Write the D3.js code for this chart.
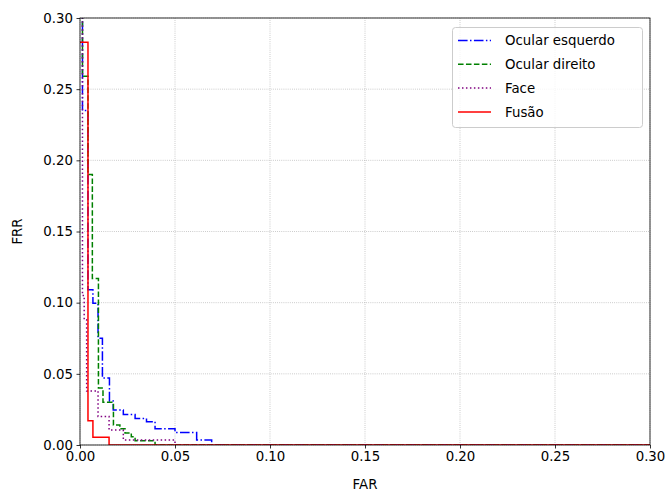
<!DOCTYPE html>
<html>
<head>
<meta charset="utf-8">
<script src="https://cdn.jsdelivr.net/npm/d3@7"></script>
<style>
  body { margin: 0; background: #fff; }
  text { font-family: "DejaVu Sans", sans-serif; }
</style>
</head>
<body>
<svg id="chart" width="670" height="491"></svg>
<script>
// step corners (curveStepBefore: drop first, then move right)
const esqFar = [0.0013, 0.0042, 0.0068, 0.0095, 0.0118, 0.0155, 0.0175, 0.0228, 0.029, 0.035, 0.0395, 0.05, 0.0614, 0.0693, 0.30];
const esqFrr = [0.32, 0.235, 0.109, 0.0996, 0.075, 0.047, 0.031, 0.0246, 0.0215, 0.0187, 0.0164, 0.0115, 0.0087, 0.0035, 0];

const dirFar = [0.0013, 0.0042, 0.0065, 0.0097, 0.0121, 0.0176, 0.021, 0.0237, 0.027, 0.029, 0.0395, 0.30];
const dirFrr = [0.32, 0.259, 0.19, 0.117, 0.040, 0.030, 0.014, 0.0115, 0.0085, 0.0058, 0.003, 0];

const faceFar = [0.0013, 0.0022, 0.0035, 0.0095, 0.0153, 0.0228, 0.05, 0.30];
const faceFrr = [0.32, 0.105, 0.088, 0.038, 0.020, 0.0105, 0.0035, 0];

const fusFar = [0, 0.0042, 0.0068, 0.0153, 0.30];
const fusFrr = [0.283, 0.283, 0.017, 0.0055, 0];

const ticks = [0, 0.05, 0.10, 0.15, 0.20, 0.25, 0.30];

const series = [
  { name: "Ocular esquerdo", far: esqFar, frr: esqFrr, color: "#0000ff", dash: "9.6,2.4,1.5,2.4" },
  { name: "Ocular direito", far: dirFar, frr: dirFrr, color: "#008000", dash: "5.55,2.4" },
  { name: "Face", far: faceFar, frr: faceFrr, color: "#800080", dash: "1.5,2.475" },
  { name: "Fusão", far: fusFar, frr: fusFrr, color: "#ff0000", dash: null }
];

const svg = d3.select("#chart");
const mLeft = 80, mRight = 650, mTop = 18, mBottom = 445;

const x = d3.scaleLinear().domain([0, 0.30]).range([mLeft, mRight]);
const y = d3.scaleLinear().domain([0, 0.30]).range([mBottom, mTop]);

// grid
const grid = svg.append("g");
grid.selectAll("line.gx").data(ticks).join("line")
  .attr("class", "gx")
  .attr("x1", d => x(d)).attr("x2", d => x(d))
  .attr("y1", mTop).attr("y2", mBottom)
  .attr("stroke", "#b0b0b0").attr("stroke-width", 0.8)
  .attr("stroke-dasharray", "0.8,1.32");
grid.selectAll("line.gy").data(ticks).join("line")
  .attr("class", "gy")
  .attr("y1", d => y(d)).attr("y2", d => y(d))
  .attr("x1", mLeft).attr("x2", mRight)
  .attr("stroke", "#b0b0b0").attr("stroke-width", 0.8)
  .attr("stroke-dasharray", "0.8,1.32");

svg.append("clipPath").attr("id", "clip")
  .append("rect").attr("x", mLeft).attr("y", mTop)
  .attr("width", mRight - mLeft).attr("height", mBottom - mTop);

const line = d3.line()
  .x(d => x(d[0]))
  .y(d => y(d[1]))
  .curve(d3.curveStepBefore);

svg.append("g").attr("clip-path", "url(#clip)")
  .selectAll("path")
  .data(series)
  .join("path")
  .attr("d", d => line(d.far.map((v, i) => [v, d.frr[i]])))
  .attr("fill", "none")
  .attr("stroke", d => d.color)
  .attr("stroke-width", 1.5)
  .attr("stroke-dasharray", d => d.dash);

// axes
const fmt = d3.format(".2f");
const xAxis = svg.append("g").attr("transform", `translate(0,${mBottom})`)
  .call(d3.axisBottom(x).tickValues(ticks).tickFormat(fmt).tickSize(3.5).tickPadding(3.5));
const yAxis = svg.append("g").attr("transform", `translate(${mLeft},0)`)
  .call(d3.axisLeft(y).tickValues(ticks).tickFormat(fmt).tickSize(3.5).tickPadding(3.5));
[xAxis, yAxis].forEach(a => {
  a.select(".domain").remove();
  a.selectAll(".tick line").attr("stroke", "#000").attr("stroke-width", 0.8);
  a.selectAll(".tick text").attr("fill", "#000")
    .style("font-family", "DejaVu Sans").style("font-size", "13.33px");
});

svg.append("rect")
  .attr("x", mLeft).attr("y", mTop)
  .attr("width", mRight - mLeft).attr("height", mBottom - mTop)
  .attr("fill", "none").attr("stroke", "#000").attr("stroke-width", 0.8);

svg.append("text")
  .attr("x", (mLeft + mRight) / 2).attr("y", 489)
  .attr("text-anchor", "middle").style("font-size", "13.33px")
  .text("FAR");
svg.append("text")
  .attr("transform", `translate(22,${(mTop + mBottom) / 2}) rotate(-90)`)
  .attr("text-anchor", "middle").style("font-size", "13.33px")
  .text("FRR");

// legend
const legend = svg.append("g");
legend.append("rect")
  .attr("x", 452.5).attr("y", 27.5).attr("width", 190).attr("height", 100)
  .attr("rx", 3)
  .attr("fill", "#fff").attr("fill-opacity", 0.8)
  .attr("stroke", "#cccccc").attr("stroke-width", 1);

const rows = legend.selectAll("g.row").data(series).join("g")
  .attr("class", "row")
  .attr("transform", (d, i) => `translate(0,${40.5 + i * 23.8})`);
rows.append("line")
  .attr("x1", 458).attr("x2", 491).attr("y1", 0).attr("y2", 0)
  .attr("stroke", d => d.color).attr("stroke-width", 1.5)
  .attr("stroke-dasharray", d => d.dash);
rows.append("text")
  .attr("x", 505).attr("y", 0).attr("dy", "0.36em")
  .style("font-size", "13.33px").attr("fill", "#000")
  .text(d => d.name);
</script>
</body>
</html>
